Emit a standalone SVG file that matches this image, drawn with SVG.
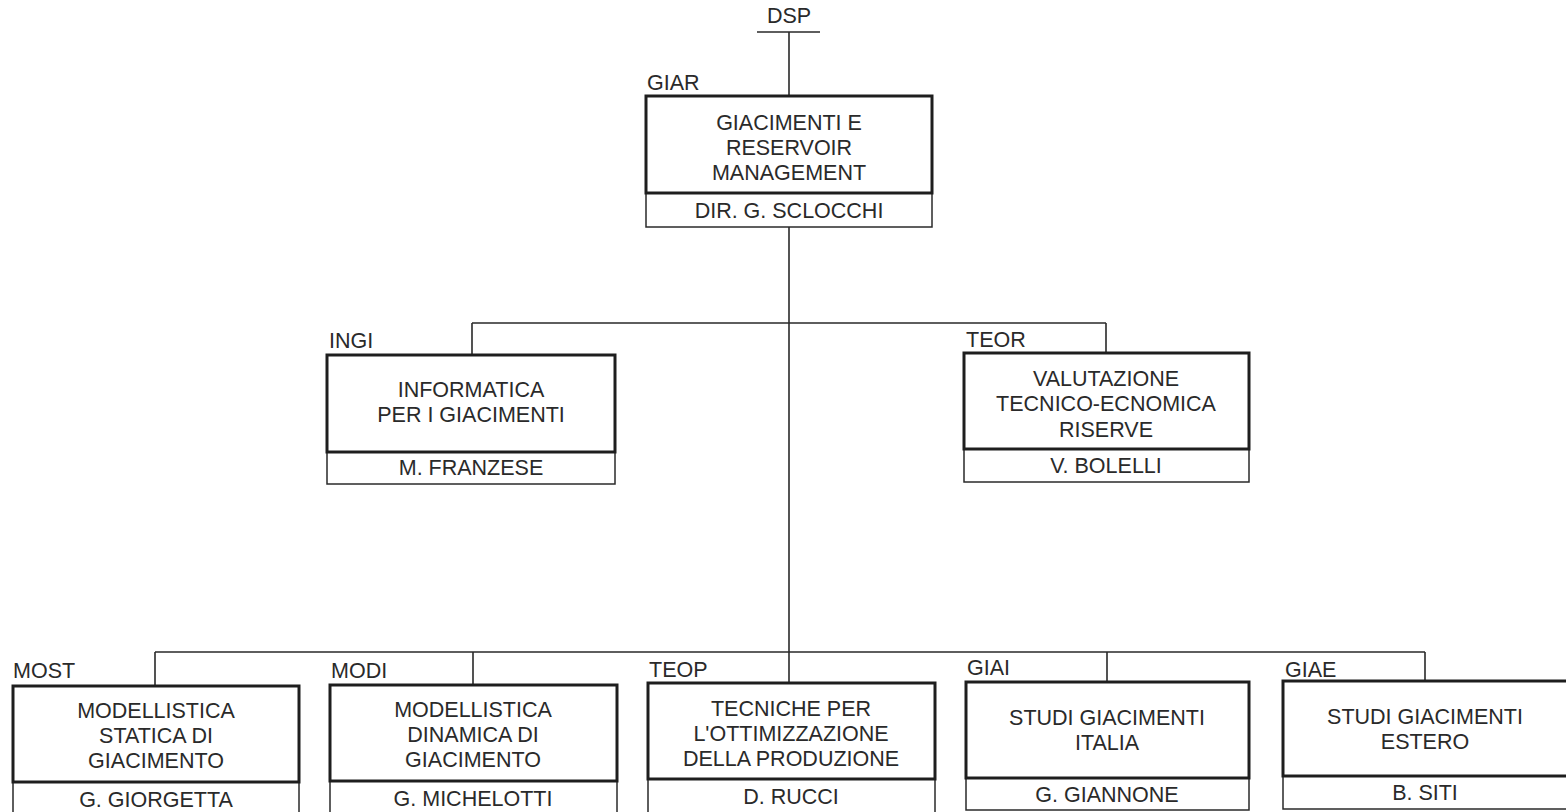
<svg xmlns="http://www.w3.org/2000/svg" width="1566" height="812" viewBox="0 0 1566 812">
<style>
text{font-family:"Liberation Sans",Arial,sans-serif;font-size:21.5px;fill:#2a2a2a}
.c{text-anchor:middle}
.main{fill:#fff;stroke:#1e1e1e;stroke-width:3}
.name{fill:#fff;stroke:#2a2a2a;stroke-width:1.5}
.ln{fill:none;stroke:#2a2a2a;stroke-width:1.6}
</style>
<rect width="1566" height="812" fill="#fff"/>
<g id="connectors">
<path class="ln" d="M757 32H820M789 32V96"/>
<path class="ln" d="M789 227V683"/>
<path class="ln" d="M472 323H1106M472 323V355M1106 323V353"/>
<path class="ln" d="M155 652H1425M155 652V686M473 652V685M1107 652V682M1425 652V681"/>
</g>
<g id="DSP"><text class="c" x="789" y="23">DSP</text></g>
<g id="GIAR">
<text x="647" y="90">GIAR</text>
<rect class="name" x="646" y="193" width="286" height="34"/>
<rect class="main" x="646" y="96" width="286" height="97"/>
<text class="c" x="789" y="130">GIACIMENTI E</text>
<text class="c" x="789" y="155">RESERVOIR</text>
<text class="c" x="789" y="180">MANAGEMENT</text>
<text class="c" x="789" y="218">DIR. G. SCLOCCHI</text>
</g>
<g id="INGI">
<text x="329" y="348">INGI</text>
<rect class="name" x="327" y="452" width="288" height="32"/>
<rect class="main" x="327" y="355" width="288" height="97"/>
<text class="c" x="471" y="397">INFORMATICA</text>
<text class="c" x="471" y="422">PER I GIACIMENTI</text>
<text class="c" x="471" y="475">M. FRANZESE</text>
</g>
<g id="TEOR">
<text x="966" y="347">TEOR</text>
<rect class="name" x="964" y="449" width="285" height="33"/>
<rect class="main" x="964" y="353" width="285" height="96"/>
<text class="c" x="1106" y="386">VALUTAZIONE</text>
<text class="c" x="1106" y="411">TECNICO-ECNOMICA</text>
<text class="c" x="1106" y="437">RISERVE</text>
<text class="c" x="1106" y="473">V. BOLELLI</text>
</g>
<g id="MOST">
<text x="13" y="678">MOST</text>
<rect class="name" x="13" y="782" width="286" height="34"/>
<rect class="main" x="13" y="686" width="286" height="96"/>
<text class="c" x="156" y="718">MODELLISTICA</text>
<text class="c" x="156" y="743">STATICA DI</text>
<text class="c" x="156" y="768">GIACIMENTO</text>
<text class="c" x="156" y="807">G. GIORGETTA</text>
</g>
<g id="MODI">
<text x="331" y="678">MODI</text>
<rect class="name" x="330" y="781" width="287" height="35"/>
<rect class="main" x="330" y="685" width="287" height="96"/>
<text class="c" x="473" y="717">MODELLISTICA</text>
<text class="c" x="473" y="742">DINAMICA DI</text>
<text class="c" x="473" y="767">GIACIMENTO</text>
<text class="c" x="473" y="806">G. MICHELOTTI</text>
</g>
<g id="TEOP">
<text x="649" y="677">TEOP</text>
<rect class="name" x="648" y="779" width="287" height="37"/>
<rect class="main" x="648" y="683" width="287" height="96"/>
<text class="c" x="791" y="716">TECNICHE PER</text>
<text class="c" x="791" y="741">L'OTTIMIZZAZIONE</text>
<text class="c" x="791" y="766">DELLA PRODUZIONE</text>
<text class="c" x="791" y="804">D. RUCCI</text>
</g>
<g id="GIAI">
<text x="967" y="675">GIAI</text>
<rect class="name" x="966" y="778" width="283" height="32"/>
<rect class="main" x="966" y="682" width="283" height="96"/>
<text class="c" x="1107" y="725">STUDI GIACIMENTI</text>
<text class="c" x="1107" y="750">ITALIA</text>
<text class="c" x="1107" y="802">G. GIANNONE</text>
</g>
<g id="GIAE">
<text x="1285" y="677">GIAE</text>
<rect class="name" x="1283" y="776" width="286" height="33"/>
<rect class="main" x="1283" y="681" width="286" height="95"/>
<text class="c" x="1425" y="724">STUDI GIACIMENTI</text>
<text class="c" x="1425" y="749">ESTERO</text>
<text class="c" x="1425" y="800">B. SITI</text>
</g>
</svg>
